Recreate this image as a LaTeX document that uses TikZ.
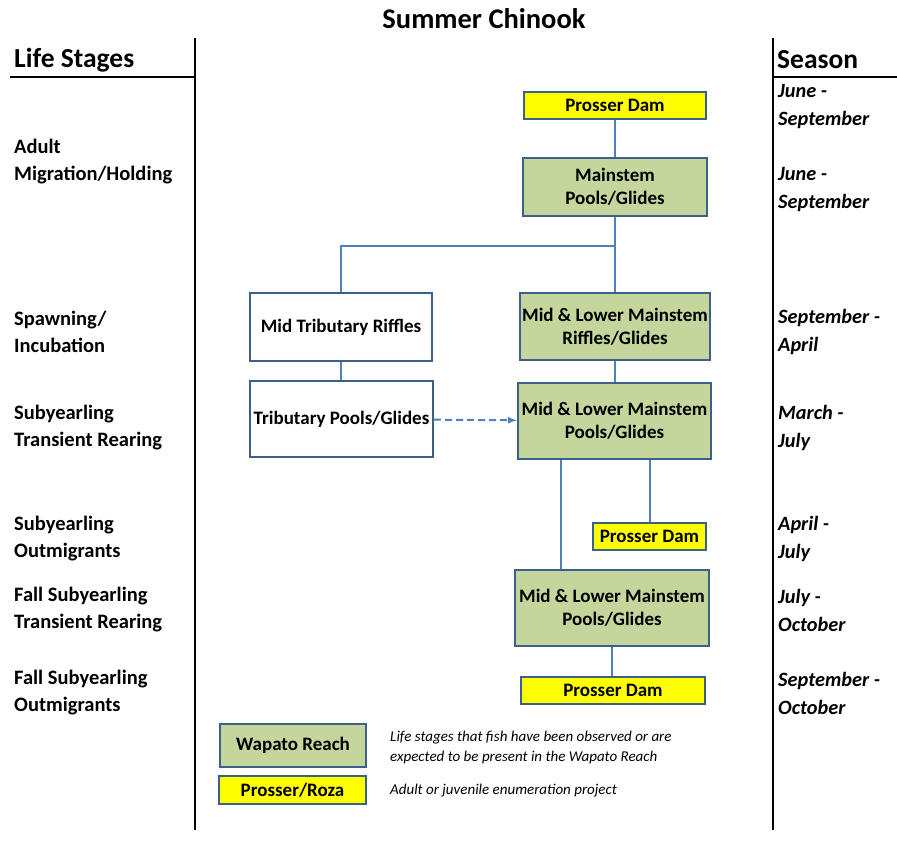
\documentclass[tikz,border=0pt]{standalone}
\usepackage{fontspec}
\setmainfont{Carlito}
\usepackage{tikz}

\definecolor{wapato}{RGB}{196,214,155}
\definecolor{prosser}{RGB}{255,255,0}
\definecolor{boxedge}{RGB}{60,96,140}
\definecolor{linkblue}{RGB}{79,129,189}

\tikzset{
  stage/.style={font=\bfseries\fontsize{20.5}{27}\selectfont, align=left, anchor=west, inner sep=0pt},
  season/.style={font=\bfseries\itshape\fontsize{20.3}{28}\selectfont, align=left, anchor=west, inner sep=0pt},
  reach/.style={draw=boxedge, line width=2.2pt, fill=wapato, align=center,
    font=\bfseries\fontsize{19}{23}\selectfont, inner sep=0pt},
  dam/.style={reach, fill=prosser},
  trib/.style={reach, fill=white},
  link/.style={draw=linkblue, line width=2pt},
  note/.style={font=\itshape\fontsize{15}{20}\selectfont, align=left, anchor=west, inner sep=0pt}
}

\begin{document}
\begin{tikzpicture}[x=1pt,y=-1pt]
    \useasboundingbox (0,0) rectangle (897,845);
    % headings and rules
    \node (title) [font=\bfseries\fontsize{28.5}{32}\selectfont] at (484,19) {Summer Chinook};
    \node (stages) [stage, font=\bfseries\fontsize{27.5}{30}\selectfont] at (14,60) {Life Stages};
    \node (season) [season, font=\bfseries\fontsize{27.5}{30}\selectfont] at (777,60) {Season};
    \draw[line width=2.5pt] (195,38) -- (195,830) (773,38) -- (773,830);
    \draw[line width=2.5pt] (10,77) -- (195,77) (773,77) -- (897,77);

    % life stages
    \node (s1) [stage] at (14,162) {Adult\\Migration/Holding};
    \node (s2) [stage] at (14,332) {Spawning/\\Incubation};
    \node (s3) [stage] at (14,428) {Subyearling\\Transient Rearing};
    \node (s4) [stage] at (14,539) {Subyearling\\Outmigrants};
    \node (s5) [stage] at (14,610) {Fall Subyearling\\Transient Rearing};
    \node (s6) [stage] at (14,693) {Fall Subyearling\\Outmigrants};

    % seasons
    \node (t1) [season] at (778,107) {June -\\September};
    \node (t2) [season] at (778,190) {June -\\September};
    \node (t3) [season] at (778,332) {September -\\April};
    \node (t4) [season] at (778,428) {March -\\July};
    \node (t5) [season] at (778,539) {April -\\July};
    \node (t6) [season] at (778,610) {July -\\October};
    \node (t7) [season] at (778,693) {September -\\October};

    % habitat boxes
    \node (pd1) [dam, minimum width=182pt, minimum height=27pt] at (615,105.5) {Prosser Dam};
    \node (msp) [reach, minimum width=184pt, minimum height=58pt] at (615,187) {Mainstem\\Pools/Glides};
    \node (mtr) [trib, minimum width=182pt, minimum height=68pt] at (341,327) {Mid Tributary Riffles};
    \node (mlr) [reach, minimum width=190pt, minimum height=67pt] at (615,326.5) {Mid \& Lower Mainstem\\Riffles/Glides};
    \node (tpg) [trib, minimum width=183pt, minimum height=76pt] at (341.5,419) {Tributary Pools/Glides};
    \node (mlp) [reach, minimum width=193pt, minimum height=76pt] at (614.5,421) {Mid \& Lower Mainstem\\Pools/Glides};
    \node (pd2) [dam, minimum width=113pt, minimum height=27pt] at (649.5,536.5) {Prosser Dam};
    \node (mlq) [reach, minimum width=194pt, minimum height=76pt] at (612,608) {Mid \& Lower Mainstem\\Pools/Glides};
    \node (pd3) [dam, minimum width=184pt, minimum height=27pt] at (613,690.5) {Prosser Dam};
    \coordinate (split) at (615,246);

    \draw[link] (pd1) -- (msp);
    \draw[link] (msp) -- (mlr);
    \draw[link] (split) -| (mtr);
    \draw[link] (mtr.south) -- (mtr.south |- tpg.north);
    \draw[link] (mlr.south) -- (mlr.south |- mlp.north);
    \draw[link, dash pattern=on 7pt off 4pt, -latex] (tpg) -- (mlp);
    \draw[link] ([xshift=-54pt]mlp.south) -- ([xshift=-54pt]mlp.south |- mlq.north);
    \draw[link] (mlp.south -| pd2.north) -- (pd2);
    \draw[link] (mlq.south) -- (mlq.south |- pd3.north);

    % legend
    \node (keyw) [reach, minimum width=146pt, minimum height=43pt] at (293,745.5) {Wapato Reach};
    \node (keyp) [dam, minimum width=147pt, minimum height=28pt] at (292.5,790) {Prosser/Roza};
    \node (notew) [note] at (390,747) {Life stages that fish have been observed or are\\expected to be present in the Wapato Reach};
    \node (notep) [note] at (390,791) {Adult or juvenile enumeration project};
  \end{tikzpicture}
\end{document}
